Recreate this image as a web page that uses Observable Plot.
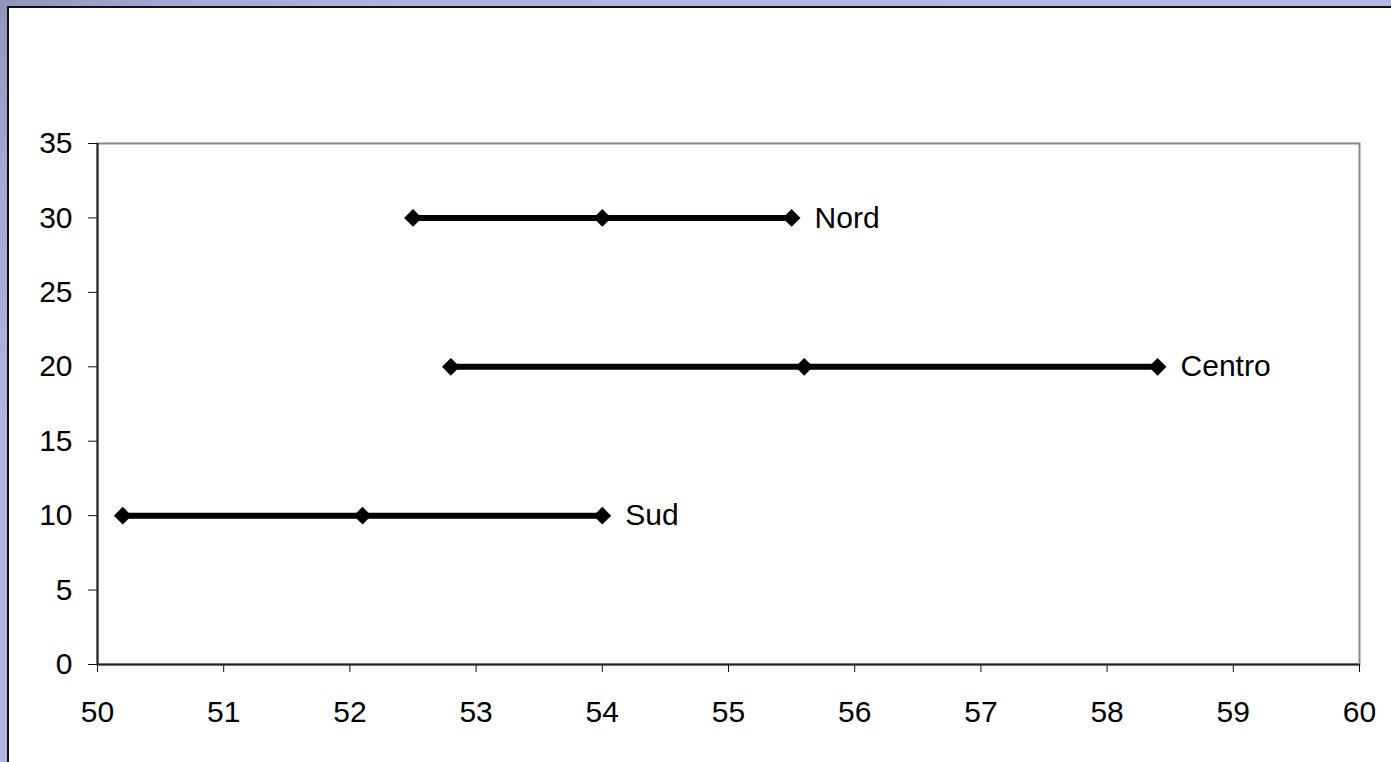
<!DOCTYPE html>
<html>
<head>
<meta charset="utf-8">
<script src="https://cdn.jsdelivr.net/npm/d3@7"></script>
<script src="https://cdn.jsdelivr.net/npm/@observablehq/plot@0.6"></script>
<style>
  html, body { margin: 0; padding: 0; width: 1391px; height: 762px; overflow: hidden; }
  body { position: relative; background: linear-gradient(135deg, #9393bb 0px, #a6a6d4 120px, #b3b3e3 300px, #b7b7e8 100%); font-family: "Liberation Sans", Arial, sans-serif; }
  #panel { position: absolute; left: 7px; top: 6px; right: 0; bottom: 0; background: #fff; border-left: 2px solid #111; border-top: 2px solid #111; }
  #chart { position: absolute; left: 0; top: 0; }
</style>
</head>
<body>
<div id="panel"></div>
<div id="chart"></div>
<script>
// Data
const regions = ["Nord", "Centro", "Sud"];
const yValues = [30, 20, 10];
const nordX = [52.5, 54, 55.5];
const centroX = [52.8, 55.6, 58.4];
const sudX = [50.2, 52.1, 54];
const xTicks = [50, 51, 52, 53, 54, 55, 56, 57, 58, 59, 60];
const yTicks = [0, 5, 10, 15, 20, 25, 30, 35];

const seriesX = [nordX, centroX, sudX];
const points = [];
regions.forEach((r, i) => seriesX[i].forEach(x => points.push({region: r, x, y: yValues[i]})));
const labels = regions.map((r, i) => ({region: r, x: seriesX[i][seriesX[i].length - 1], y: yValues[i]}));

const chart = Plot.plot({
  width: 1391,
  height: 762,
  marginLeft: 97,
  marginRight: 32,
  marginTop: 143,
  marginBottom: 98,
  style: { background: "transparent", fontFamily: "Liberation Sans, Arial, sans-serif", fontSize: "30px", color: "#000" },
  x: { domain: [50, 60], ticks: xTicks, label: null },
  y: { domain: [0, 35], ticks: yTicks, label: null },
  marks: [
    Plot.frame({ stroke: "#888", strokeWidth: 2 }),
    Plot.axisX({ ticks: xTicks, tickSize: 8, tickPadding: 28, fontSize: 30, stroke: "#111", label: null }),
    Plot.axisY({ ticks: yTicks, tickSize: 9, tickPadding: 16, fontSize: 30, stroke: "#111", label: null }),
    Plot.ruleY([0], { stroke: "#222", strokeWidth: 2 }),
    Plot.ruleX([50], { y1: 0, y2: 35, stroke: "#222", strokeWidth: 2 }),
    Plot.line(points, { x: "x", y: "y", z: "region", stroke: "#000", strokeWidth: 6 }),
    Plot.dot(points, { x: "x", y: "y", symbol: "diamond2", r: 8, fill: "#000", stroke: "none" }),
    Plot.text(labels, { x: "x", y: "y", text: "region", dx: 23, textAnchor: "start", fontSize: 30, fill: "#000" })
  ]
});
document.getElementById("chart").appendChild(chart);
</script>
</body>
</html>
